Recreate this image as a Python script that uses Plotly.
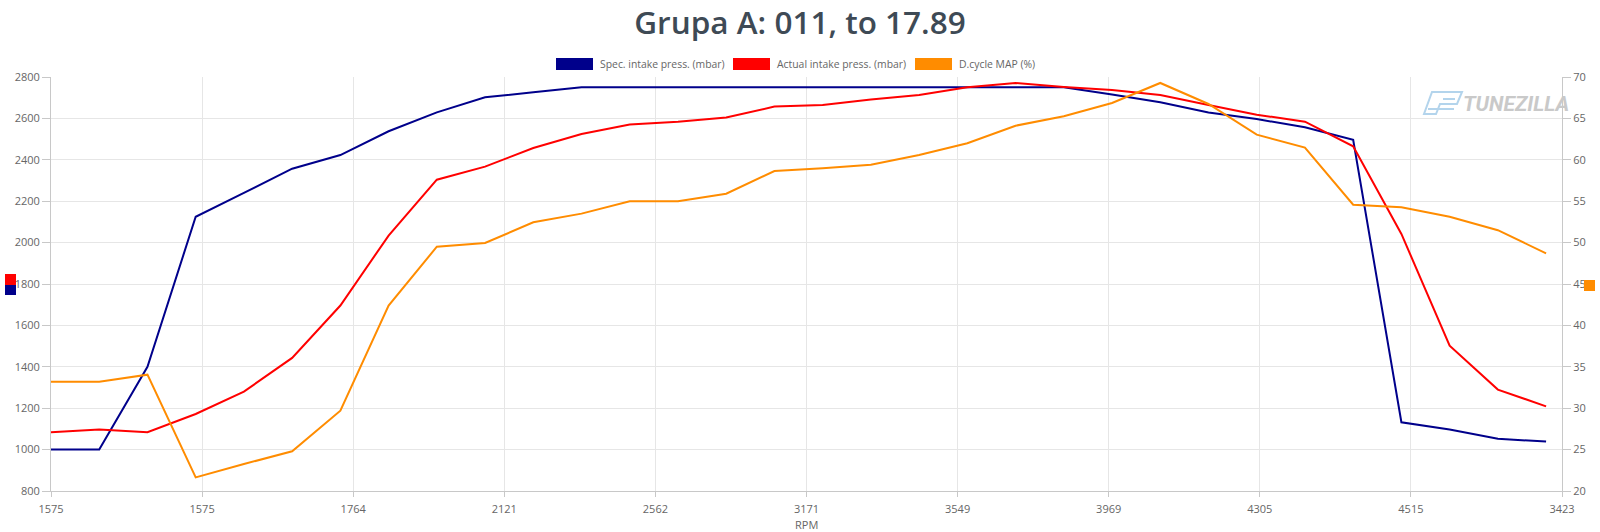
import plotly.graph_objects as go

# ---- data ----
sample_idx = list(range(32))
spec_press = [1000, 1000, 1400, 2125, 2240, 2357, 2423, 2538, 2629, 2702, 2726,
              2750, 2750, 2750, 2750, 2750, 2750, 2750, 2750, 2750, 2750, 2750,
              2715, 2678, 2629, 2597, 2557, 2497, 1132, 1097, 1052, 1039]
actual_press = [1084, 1097, 1084, 1172, 1280, 1443, 1696, 2034, 2304, 2367, 2457,
                2525, 2570, 2584, 2604, 2657, 2665, 2691, 2713, 2750, 2771,
                2752, 2737, 2713, 2665, 2618, 2584, 2465, 2042, 1502, 1290, 1209]
dcycle_map = [33.2, 33.2, 34.05, 21.65, 23.26, 24.8, 29.7, 42.4, 49.5, 49.95, 52.45,
              53.5, 55.0, 55.0, 55.9, 58.65, 58.97, 59.4, 60.58, 62.0, 64.12,
              65.25, 66.86, 69.28, 66.74, 63.04, 61.47, 54.58, 54.26, 53.13, 51.5, 48.7]
rpm_tick_labels = ["1575", "1575", "1764", "2121", "2562", "3171", "3549",
                   "3969", "4305", "4515", "3423"]
series_names = ["Spec. intake press. (mbar)", "Actual intake press. (mbar)", "D.cycle MAP (%)"]
series_colors = ["#00008B", "#FF0000", "#FF8C00"]

W, H = 1600, 532
L, R, T, B = 51, 1562, 77, 491
X_MAX = 31.33


def px(x):
    return (x - L) / (R - L)


def py(y):
    return (B - y) / (B - T)


fig = go.Figure()
fig.add_trace(go.Scatter(x=sample_idx, y=spec_press, name=series_names[0], mode="lines",
                         line=dict(color=series_colors[0], width=2), yaxis="y"))
fig.add_trace(go.Scatter(x=sample_idx, y=actual_press, name=series_names[1], mode="lines",
                         line=dict(color=series_colors[1], width=2), yaxis="y"))
fig.add_trace(go.Scatter(x=sample_idx, y=dcycle_map, name=series_names[2], mode="lines",
                         line=dict(color=series_colors[2], width=2), yaxis="y2"))

tickvals = [X_MAX * k / 10 for k in range(11)]
tick_font = dict(family="Open Sans", size=11, color="#666666")

shapes = []
annotations = []

# custom legend
legend_items = [(556, 598, series_names[0]), (733, 775, series_names[1]), (915, 957, series_names[2])]
for (bx, tx, name), col in zip(legend_items, series_colors):
    shapes.append(dict(type="rect", xref="paper", yref="paper",
                       x0=px(bx), x1=px(bx + 37), y0=py(70), y1=py(58),
                       fillcolor=col, line=dict(width=0)))
    annotations.append(dict(xref="paper", yref="paper", x=px(tx), y=py(63.5), text=name,
                            showarrow=False, xanchor="left", yanchor="middle",
                            font=dict(family="Open Sans", size=10.4, color="#666666")))

# axis title
annotations.append(dict(xref="paper", yref="paper", x=0.5, y=py(524), text="RPM",
                        showarrow=False, xanchor="center", yanchor="middle",
                        font=dict(family="Open Sans", size=11, color="#666666")))

# axis colour markers
shapes.append(dict(type="rect", xref="paper", yref="paper", x0=px(5), x1=px(16),
                   y0=py(285), y1=py(274), fillcolor="#FF0000", line=dict(width=0)))
shapes.append(dict(type="rect", xref="paper", yref="paper", x0=px(5), x1=px(16),
                   y0=py(295), y1=py(285), fillcolor="#00008B", line=dict(width=0)))
shapes.append(dict(type="rect", xref="paper", yref="paper", x0=px(1584), x1=px(1595),
                   y0=py(291), y1=py(280), fillcolor="#FF8C00", line=dict(width=0)))

# watermark
icon = "#b3d4ec"
shapes.append(dict(type="path", xref="paper", yref="paper",
                   path=f"M {px(1432)},{py(92)} L {px(1462)},{py(92)} L {px(1457)},{py(104)} "
                        f"L {px(1440)},{py(104)} L {px(1436)},{py(114)} L {px(1424)},{py(114)} Z",
                   line=dict(color=icon, width=2), fillcolor="rgba(0,0,0,0)"))
shapes.append(dict(type="path", xref="paper", yref="paper",
                   path=f"M {px(1443)},{py(99)} L {px(1455)},{py(99)} M {px(1428)},{py(109)} L {px(1454)},{py(109)}",
                   line=dict(color=icon, width=2)))
annotations.append(dict(xref="paper", yref="paper", x=px(1461), y=py(104), text="<i><b>TUNEZILLA</b></i>",
                        showarrow=False, xanchor="left", yanchor="middle",
                        font=dict(family="Roboto", size=21, color="#c9c9c9")))

fig.update_layout(
    width=W, height=H,
    margin=dict(l=L, r=W - R, t=T, b=H - B, autoexpand=False),
    paper_bgcolor="white", plot_bgcolor="white",
    showlegend=False,
    title=dict(text="Grupa A: 011, to 17.89", x=0.5, xanchor="center", y=1 - 23 / H, yanchor="middle",
               font=dict(family="Open Sans", size=31.5, color="#3e4a55", weight=600)),
    xaxis=dict(range=[0, X_MAX], tickvals=tickvals, ticktext=rpm_tick_labels,
               showgrid=True, gridcolor="#e6e6e6", gridwidth=1,
               showline=True, linecolor="#c8c8c8", linewidth=1, mirror=False,
               ticks="outside", ticklen=5, tickcolor="#c8c8c8", ticklabelstandoff=3,
               tickfont=tick_font, zeroline=False, automargin=False),
    yaxis=dict(range=[800, 2800], dtick=200, showgrid=True, gridcolor="#e6e6e6",
               showline=True, linecolor="#c8c8c8", ticks="outside", ticklen=8, tickcolor="#c8c8c8",
               tickfont=tick_font, zeroline=False, automargin=False),
    yaxis2=dict(range=[20, 70], dtick=5, overlaying="y", side="right", showgrid=False,
                showline=True, linecolor="#c8c8c8", ticks="outside", ticklen=8, tickcolor="#c8c8c8",
                tickfont=tick_font, zeroline=False, automargin=False),
    shapes=shapes,
    annotations=annotations,
)

fig.write_html("out.html")
